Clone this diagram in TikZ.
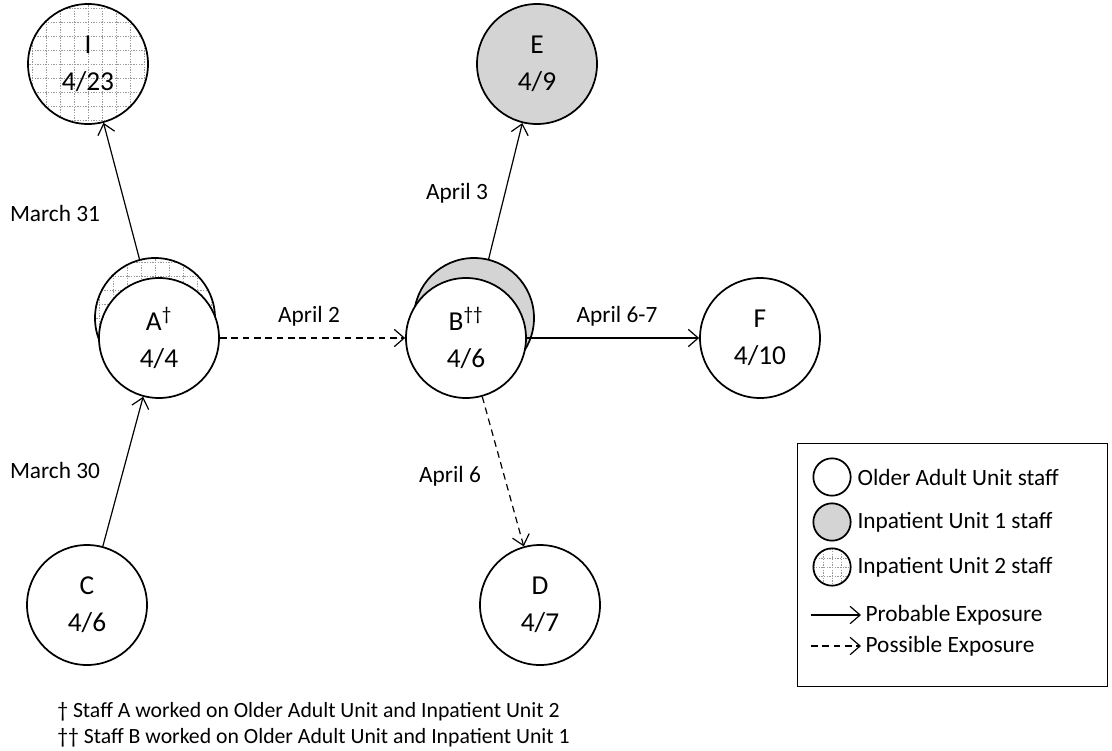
\documentclass[tikz,border=0pt]{standalone}
\usepackage{fontspec}
\setmainfont{Carlito}
\usetikzlibrary{arrows.meta}
\newcommand\gridcircle[4]{% cx, cy, radius (pt), spacing
  \begin{scope}
    \clip (#1,#2) circle (#3);
    \foreach \k in {-8,...,8} {
      \draw[gridline] ({#1+#4*\k},{#2-80}) -- ({#1+#4*\k},{#2+80});
      \draw[gridline] ({#1-80},{#2+#4*\k}) -- ({#1+80},{#2+#4*\k});
    }
  \end{scope}}
\begin{document}
\begin{tikzpicture}[x=0.75pt,y=-0.75pt,
  person/.style={circle, draw, line width=1.3pt, minimum size=90pt, inner sep=0pt,
    align=center, font=\fontsize{20.5}{28}\selectfont},
  unitone/.style={fill=black!17},
  gridline/.style={draw=black!40, line width=0.5pt, dash pattern=on 1pt off 1pt},
  prob/.style={line width=0.9pt, -{Straight Barb[length=7.5pt,width=13pt,line width=0.9pt]}},
  poss/.style={prob, dash pattern=on 5pt off 3.5pt},
  lbl/.style={font=\fontsize{17.5}{20}\selectfont, inner sep=1pt},
  legcirc/.style={circle, draw, line width=1.3pt, minimum size=28pt, inner sep=0pt},
  foot/.style={font=\fontsize{16.3}{19}\selectfont, anchor=west, inner sep=0pt}]
\useasboundingbox (0,0) rectangle (1112,750);

% I (Inpatient Unit 2)
\gridcircle{88}{64}{45pt}{14}
\node[person] (I) at (88,64) {I\\4/23};

% E (Inpatient Unit 1)
\node[person, unitone] (E) at (537,64) {E\\4/9};

% A (Older Adult + Unit 2)
\gridcircle{155}{318}{45pt}{14}
\node[person] (Aback) at (155,318) {};
\node[person, fill=white] (A) at (159,338) {A\textsuperscript{†}\\4/4};

% B (Older Adult + Unit 1)
\node[person, unitone] (Bback) at (474,318) {};
\node[person, fill=white] (B) at (466,338) {B\textsuperscript{††}\\4/6};

% F, C, D
\node[person] (F) at (760,338) {F\\4/10};
\node[person] (C) at (87,605) {C\\4/6};
\node[person] (D) at (540,605) {D\\4/7};

% connectors
\draw[prob] (Aback) -- (I);
\draw[prob] (C) -- (A);
\draw[poss] (A) -- (B);
\draw[prob] (Bback) -- (E);
\draw[prob] (B) -- (F);
\draw[poss] (B) -- (D);

% labels
\node[lbl] (l1) at (55,213) {March 31};
\node[lbl] (l2) at (457,193) {April 3};
\node[lbl] (l3) at (309,316) {April 2};
\node[lbl] (l4) at (617,316) {April 6-7};
\node[lbl] (l5) at (55,470) {March 30};
\node[lbl] (l6) at (450,476) {April 6};

% legend
\node[draw, line width=0.6pt, minimum width=232.5pt, minimum height=182pt, inner sep=0pt] (legend) at (952,565) {};
\node[legcirc] (L1) at (832,477) {};
\node[lbl, anchor=west] (T1) at (856,477) {Older Adult Unit staff};
\node[legcirc, unitone] (L2) at (832,522) {};
\node[lbl, anchor=west] (T2) at (856,522) {Inpatient Unit 1 staff};
\gridcircle{832}{567}{14pt}{9}
\node[legcirc] (L3) at (832,567) {};
\node[lbl, anchor=west] (T3) at (856,567) {Inpatient Unit 2 staff};
\coordinate (P1) at (811,615);
\coordinate (P2) at (861,615);
\draw[prob] (P1) -- (P2);
\node[lbl, anchor=west] (T4) at (864,615) {Probable Exposure};
\coordinate (Q1) at (811,646);
\coordinate (Q2) at (861,646);
\draw[poss] (Q1) -- (Q2);
\node[lbl, anchor=west] (T5) at (864,646) {Possible Exposure};

% footnotes
\node[foot] (f1) at (57,712) {† Staff A worked on Older Adult Unit and Inpatient Unit 2};
\node[foot] (f2) at (57,738) {†† Staff B worked on Older Adult Unit and Inpatient Unit 1};
\end{tikzpicture}
\end{document}
